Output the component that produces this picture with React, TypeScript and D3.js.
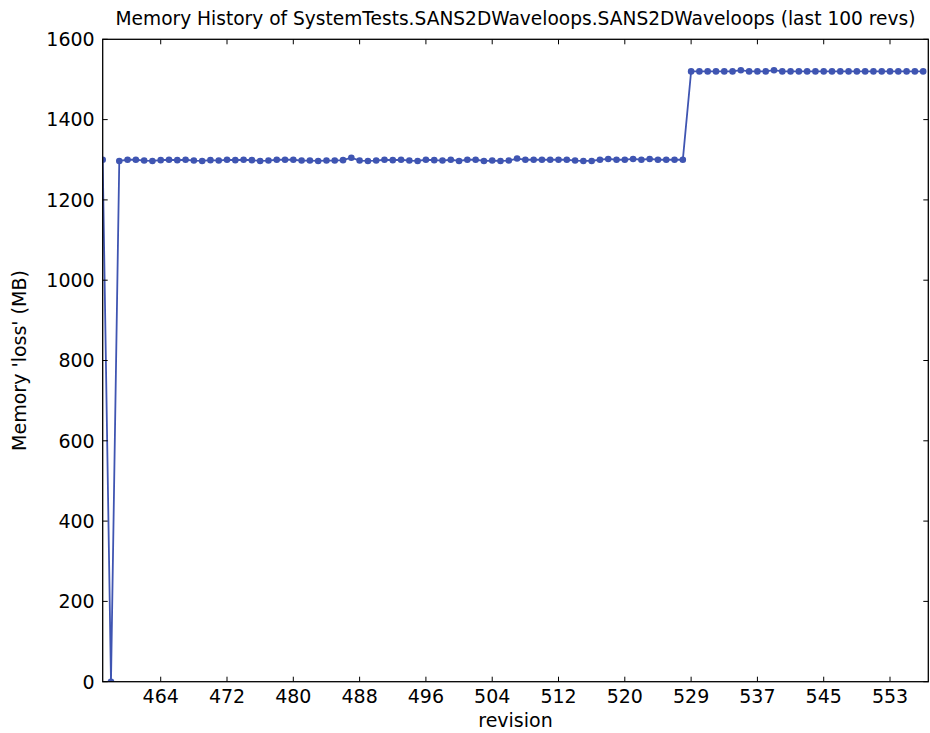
import React from "react";
import * as d3 from "d3";

const title = "Memory History of SystemTests.SANS2DWaveloops.SANS2DWaveloops (last 100 revs)";
const xLabel = "revision";
const yLabel = "Memory 'loss' (MB)";

// memory per revision index (0..99)
const memoryStart = [1300, 0];
const memoryPhase1 = [
  1297, 1300, 1300, 1298, 1297, 1299, 1300, 1299, 1300, 1298,
  1297, 1299, 1298, 1300, 1299, 1300, 1299, 1297, 1298, 1300,
  1300, 1300,
  1298, 1298, 1297, 1298, 1298, 1299, 1305, 1298, 1297, 1298,
  1300, 1299, 1300, 1298, 1297, 1300, 1299, 1298, 1300, 1297,
  1300, 1300, 1297, 1298,
  1297, 1298, 1303, 1300, 1300, 1300, 1300, 1300, 1300, 1298,
  1297, 1297, 1300, 1302, 1300, 1300, 1302, 1300, 1302, 1300,
  1300, 1300, 1300,
];
const memoryPhase2 = [
  1520, 1520, 1520, 1520, 1520, 1520, 1523, 1520, 1520, 1520,
  1523, 1520, 1520, 1520, 1520, 1520, 1520, 1520, 1520, 1520,
  1520, 1520, 1520, 1520, 1520, 1520, 1520, 1520, 1520,
];
const memory = [...memoryStart, ...memoryPhase1, ...memoryPhase2];

const xTickIndex = [7, 15, 23, 31, 39, 47, 55, 63, 71, 79, 87, 95];
const xTickLabels = ["464", "472", "480", "488", "496", "504", "512", "520", "529", "537", "545", "553"];
const yTicks = [0, 200, 400, 600, 800, 1000, 1200, 1400, 1600];

const W = 930;
const H = 733;
const M = { left: 102.7, right: 928.3, top: 39.3, bottom: 681.7 };
const FONT = "DejaVu Sans, sans-serif";
const COLOR = "#3f55b2";

export default function App() {
  const x = d3.scaleLinear().domain([0, 99.62]).range([M.left, M.right]);
  const y = d3.scaleLinear().domain([0, 1600]).range([M.bottom, M.top]);
  const line = d3
    .line<number>()
    .x((_, i) => x(i))
    .y((d) => y(d));
  const tl = 5;
  return (
    <div style={{ position: "absolute", left: 0, top: 0 }}>
      <svg width={W} height={H} style={{ display: "block", background: "#fff" }}>
        <defs>
          <clipPath id="plotclip">
            <rect x={M.left} y={M.top} width={M.right - M.left} height={M.bottom - M.top} />
          </clipPath>
        </defs>
        <g clipPath="url(#plotclip)">
          <path d={line(memory) || ""} fill="none" stroke={COLOR} strokeWidth={1.8} />
          {memory.map((v, i) => (
            <circle key={i} cx={x(i)} cy={y(v)} r={3.3} fill={COLOR} />
          ))}
        </g>
        {xTickIndex.map((t, i) => (
          <g key={"xt" + i}>
            <line x1={x(t)} x2={x(t)} y1={M.bottom} y2={M.bottom - tl} stroke="#000" strokeWidth={1} />
            <line x1={x(t)} x2={x(t)} y1={M.top} y2={M.top + tl} stroke="#000" strokeWidth={1} />
            <text x={x(t)} y={M.bottom + 21} textAnchor="middle" fontFamily={FONT} fontSize={19} fill="#000">
              {xTickLabels[i]}
            </text>
          </g>
        ))}
        {yTicks.map((t) => (
          <g key={"yt" + t}>
            <line x1={M.left} x2={M.left + tl} y1={y(t)} y2={y(t)} stroke="#000" strokeWidth={1} />
            <line x1={M.right} x2={M.right - tl} y1={y(t)} y2={y(t)} stroke="#000" strokeWidth={1} />
            <text x={M.left - 8} y={y(t)} dy="0.36em" textAnchor="end" fontFamily={FONT} fontSize={19} fill="#000">
              {t}
            </text>
          </g>
        ))}
        <rect
          x={M.left}
          y={M.top}
          width={M.right - M.left}
          height={M.bottom - M.top}
          fill="none"
          stroke="#000"
          strokeWidth={1.3}
        />
        <text x={(M.left + M.right) / 2} y={25} textAnchor="middle" fontFamily={FONT} fontSize={18.6} fill="#000">
          {title}
        </text>
        <text x={(M.left + M.right) / 2} y={727} textAnchor="middle" fontFamily={FONT} fontSize={19} fill="#000">
          {xLabel}
        </text>
        <text
          transform={`translate(26, ${(M.top + M.bottom) / 2}) rotate(-90)`}
          textAnchor="middle"
          fontFamily={FONT}
          fontSize={19}
          fill="#000"
        >
          {yLabel}
        </text>
      </svg>
    </div>
  );
}
